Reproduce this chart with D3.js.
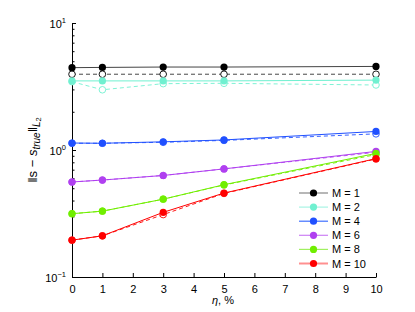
<!DOCTYPE html>
<html>
<head>
<meta charset="utf-8">
<script src="https://cdn.jsdelivr.net/npm/d3@7"></script>
<style>
  body { margin: 0; background: #fff; }
  text { font-family: "Liberation Sans", Arial, sans-serif; }
</style>
</head>
<body>
<svg id="chart"></svg>
<script>
// noise level, %
var eta = [0, 1, 3, 5, 10];
var labels = ["M = 1", "M = 2", "M = 4", "M = 6", "M = 8", "M = 10"];
var colors = ["#000000", "#70f0d0", "#2050ff", "#b040f0", "#70ee00", "#ff0000"];
var legendLineColors = ["#888888", "#a8f4e4", "#4070ff", "#cc80f4", "#a0f060", "#ff9090"];

// filled markers, solid line
var solid = [
  [4.45, 4.47, 4.5, 4.5, 4.55],
  [3.5, 3.5, 3.5, 3.5, 3.55],
  [1.135, 1.13, 1.16, 1.2, 1.4],
  [0.56, 0.58, 0.63, 0.71, 0.975],
  [0.315, 0.33, 0.41, 0.533, 0.94],
  [0.195, 0.211, 0.323, 0.458, 0.855]
];
// open markers, dashed line
var dashed = [
  [3.95, 3.95, 3.95, 3.95, 3.95],
  [3.45, 2.98, 3.33, 3.35, 3.25],
  [1.13, 1.13, 1.15, 1.19, 1.34],
  [0.56, 0.58, 0.63, 0.71, 0.96],
  [0.315, 0.33, 0.41, 0.53, 0.92],
  [0.195, 0.211, 0.31, 0.455, 0.85]
];

var W = 415, H = 312;
var svg = d3.select('#chart').attr('width', W).attr('height', H);

var x = d3.scaleLinear().domain([0, 10]).range([72, 376]);
var y = d3.scaleLog().domain([0.1, 10]).range([277, 23]);

// axes (ticks point inward)
var xAxis = d3.axisBottom(x).ticks(10).tickSizeInner(-4).tickSizeOuter(0).tickPadding(8);
var gx = svg.append('g').attr('transform', 'translate(0,277)').call(xAxis);
gx.selectAll('text').attr('font-size', 11).attr('fill', '#000');
gx.select('.domain').attr('stroke', '#000');
gx.selectAll('.tick line').attr('stroke', '#000');

var yTicks = [];
[0.1, 1].forEach(function(b) { for (var k = 1; k <= 9; k++) yTicks.push(b * k); });
yTicks.push(10);
var yAxis = d3.axisLeft(y).tickValues(yTicks).tickSizeOuter(0).tickFormat('');
var gy = svg.append('g').attr('transform', 'translate(72,0)').call(yAxis);
gy.select('.domain').attr('stroke', '#000');
gy.selectAll('.tick line')
  .attr('stroke', '#000')
  .attr('x2', function(d) { return [0.1, 1, 10].indexOf(d) >= 0 ? 4 : 2.5; });

// decade labels 10^k
[0.1, 1, 10].forEach(function(d) {
  var e = Math.round(Math.log10(d));
  var t = svg.append('text')
    .attr('x', 66).attr('y', y(d) + 5)
    .attr('text-anchor', 'end').attr('font-size', 11);
  t.append('tspan').text('10');
  t.append('tspan').attr('font-size', 7.5).attr('dy', -5).text(e < 0 ? '\u2212' + (-e) : e);
});

var line = d3.line().x(function(d, i) { return x(eta[i]); }).y(function(d) { return y(d); });

// dashed series first (under)
dashed.forEach(function(s, k) {
  svg.append('path').datum(s)
    .attr('d', line)
    .attr('fill', 'none')
    .attr('stroke', k == 0 ? '#333' : colors[k])
    .attr('stroke-width', 0.9)
    .attr('stroke-dasharray', '4,3');
  svg.selectAll('.od' + k).data(s).enter()
    .append('circle')
    .attr('cx', function(d, i) { return x(eta[i]); })
    .attr('cy', function(d) { return y(d); })
    .attr('r', 3.3)
    .attr('fill', '#fff')
    .attr('stroke', colors[k])
    .attr('stroke-width', 0.9);
});

solid.forEach(function(s, k) {
  svg.append('path').datum(s)
    .attr('d', line)
    .attr('fill', 'none')
    .attr('stroke', k == 0 ? '#444' : colors[k])
    .attr('stroke-width', 1);
  svg.selectAll('.fd' + k).data(s).enter()
    .append('circle')
    .attr('cx', function(d, i) { return x(eta[i]); })
    .attr('cy', function(d) { return y(d); })
    .attr('r', 3.6)
    .attr('fill', colors[k]);
});

// legend
var lg = svg.append('g').attr('transform', 'translate(299,193)');
labels.forEach(function(l, k) {
  var row = lg.append('g').attr('transform', 'translate(0,' + (k * 14.1) + ')');
  row.append('line').attr('x1', 0).attr('x2', 29).attr('y1', 0).attr('y2', 0)
    .attr('stroke', legendLineColors[k]).attr('stroke-width', k == 5 ? 2 : 1.2);
  row.append('circle').attr('cx', 14.5).attr('cy', 0).attr('r', 3.6).attr('fill', colors[k]);
  row.append('text').attr('x', 33).attr('y', 4).attr('font-size', 11).text(l);
});

// axis labels
svg.append('text')
  .attr('x', 223).attr('y', 304)
  .attr('text-anchor', 'middle')
  .attr('font-family', '"DejaVu Serif", "Liberation Serif", serif')
  .attr('font-size', 11)
  .html('<tspan font-style="italic">\u03B7</tspan>, %');

var yl = svg.append('text')
  .attr('transform', 'translate(37,150) rotate(-90)')
  .attr('text-anchor', 'middle')
  .attr('font-family', '"Liberation Serif", "DejaVu Serif", serif')
  .attr('font-size', 13);
yl.append('tspan').text('\u2016');
yl.append('tspan').attr('font-family', '"Liberation Sans", Arial, sans-serif').text('s');
yl.append('tspan').text(' \u2212 ');
yl.append('tspan').attr('font-style', 'italic').text('s');
yl.append('tspan').attr('font-style', 'italic').attr('font-size', 10).attr('dy', 3).text('true');
yl.append('tspan').attr('dy', -3).text('\u2016');
yl.append('tspan').attr('font-style', 'italic').attr('font-size', 10).attr('dy', 3).text('L');
yl.append('tspan').attr('font-size', 7.5).attr('dy', 1).text('2');
</script>
</body>
</html>
